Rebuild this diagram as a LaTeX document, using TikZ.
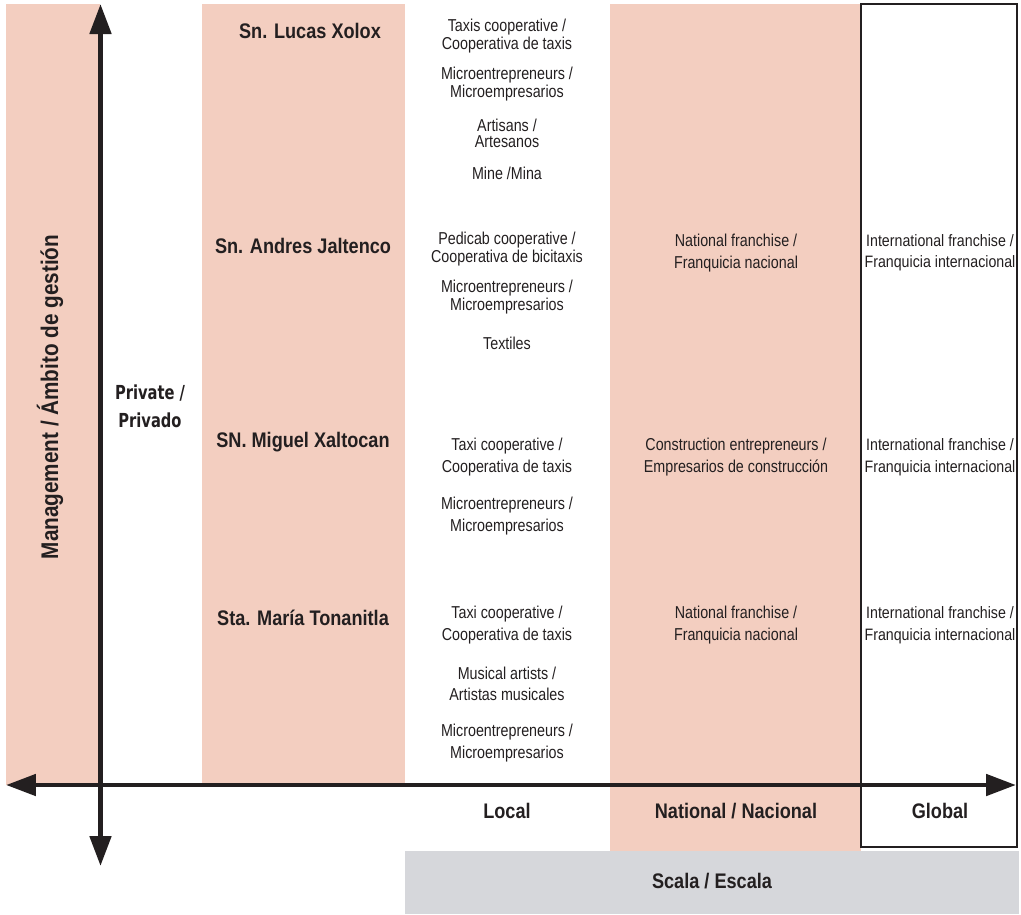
\documentclass[tikz,border=0pt]{standalone}
\usepackage{fontspec}
\usepackage{xcolor}
\setmainfont{Liberation Sans}
\newfontfamily\narrowfont[FakeStretch=0.86]{Liberation Sans}
\newfontfamily\bodyfont[FakeStretch=0.83]{Liberation Sans}
\newfontfamily\heavyfont[FakeStretch=0.76]{DejaVu Sans}
\usepackage{tikz}
\usetikzlibrary{arrows.meta,positioning}

\definecolor{bandpink}{RGB}{243,206,192}
\definecolor{scalegrey}{RGB}{214,215,219}
\definecolor{inkblack}{RGB}{35,31,32}

\begin{document}
\begin{tikzpicture}[
    x=0.02cm, y=-0.02cm,
    every node/.style={text=inkblack, inner sep=0pt},
    item/.style={align=center, font=\bodyfont\fontsize{9.8}{12.2}\selectfont},
    tightitem/.style={align=center, font=\bodyfont\fontsize{9.8}{9.1}\selectfont},
    globitem/.style={align=center, font=\narrowfont\fontsize{9.4}{12.2}\selectfont},
    town/.style={font=\narrowfont\bfseries\fontsize{12}{14}\selectfont},
    scalelabel/.style={font=\narrowfont\bfseries\fontsize{12}{14}\selectfont},
    axis/.style={{Triangle[length=0.6cm,width=0.42cm]}-{Triangle[length=0.6cm,width=0.42cm]}, line width=2.8pt, draw=inkblack}
]
    \useasboundingbox (0,0) rectangle (1021,914);

    % bands
    \fill[bandpink] (6,4) rectangle (100,785);
    \fill[bandpink] (202,4) rectangle (405,785);
    \fill[bandpink] (610,4) rectangle (861,851);
    \fill[scalegrey] (405,851) rectangle (1019,914);
    \draw[inkblack, line width=1.5pt] (861,4) rectangle (1017,847);

    % axes
    \coordinate (xleft) at (6,785);
    \coordinate (xright) at (1016,785);
    \coordinate (ytop) at (100.5,4);
    \coordinate (ybottom) at (100.5,866);
    \draw[axis] (xleft) -- (xright);
    \draw[axis] (ybottom) -- (ytop);

    \node[rotate=90, font=\narrowfont\bfseries\fontsize{13.7}{14}\selectfont] (management) at (50,397) {Management / Ámbito de gestión};
    \node[align=center, font=\heavyfont\bfseries\fontsize{11}{16}\selectfont] (private) at (150,406) {Private /\\Privado};

    % towns
    \node[town] (lucas) at (310,31) {Sn. Lucas Xolox};
    \node[town] (andres) at (303,246) {Sn. Andres Jaltenco};
    \node[town] (miguel) at (303,442) {SN. Miguel Xaltocan};
    \node[town] (maria) at (303,618) {Sta. María Tonanitla};

    % local
    \node[tightitem] (lucas1) at (507,36) {Taxis cooperative /\\Cooperativa de taxis};
    \node[tightitem] (lucas2) at (507,84) {Microentrepreneurs /\\Microempresarios};
    \node[tightitem] (lucas3) at (507,133) {Artisans /\\Artesanos};
    \node[item] (lucas4) at (507,173) {Mine /Mina};
    \node[tightitem] (andres1) at (507,249) {Pedicab cooperative /\\Cooperativa de bicitaxis};
    \node[tightitem] (andres2) at (507,297) {Microentrepreneurs /\\Microempresarios};
    \node[item] (andres3) at (507,343) {Textiles};
    \node[item] (miguel1) at (507,457) {Taxi cooperative /\\Cooperativa de taxis};
    \node[item] (miguel2) at (507,516) {Microentrepreneurs /\\Microempresarios};
    \node[item] (maria1) at (507,625) {Taxi cooperative /\\Cooperativa de taxis};
    \node[item] (maria2) at (507,684) {Musical artists /\\Artistas musicales};
    \node[item] (maria3) at (507,743) {Microentrepreneurs /\\Microempresarios};

    % national
    \node[item] (andresnat) at (736,253) {National franchise /\\Franquicia nacional};
    \node[item] (miguelnat) at (736,457) {Construction entrepreneurs /\\Empresarios de construcción};
    \node[item] (marianat) at (736,625) {National franchise /\\Franquicia nacional};

    % global
    \node[globitem] (andresglob) at (940,253) {International franchise /\\Franquicia internacional};
    \node[globitem] (miguelglob) at (940,457) {International franchise /\\Franquicia internacional};
    \node[globitem] (mariaglob) at (940,625) {International franchise /\\Franquicia internacional};

    % scale
    \node[scalelabel] (local) at (507,811) {Local};
    \node[scalelabel] (national) at (736,811) {National / Nacional};
    \node[scalelabel] (global) at (940,811) {Global};
    \node[scalelabel] (scala) at (712,881) {Scala / Escala};
\end{tikzpicture}
\end{document}
